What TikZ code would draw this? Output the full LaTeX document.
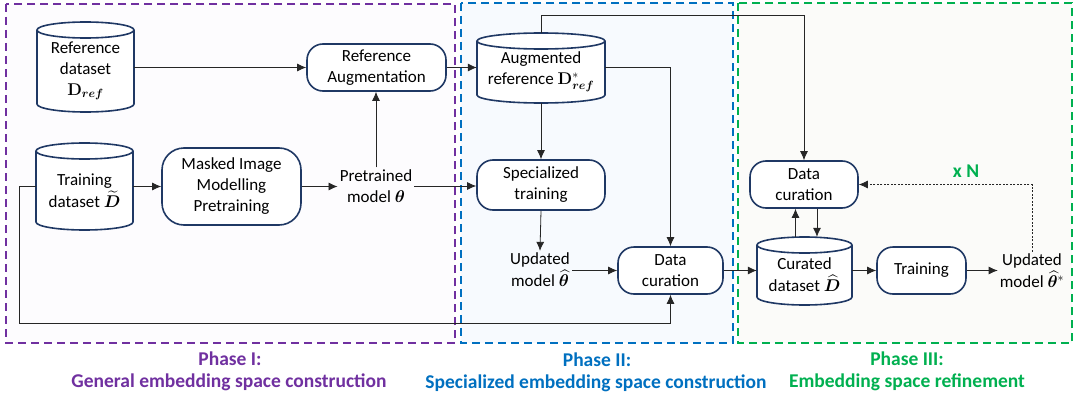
\RequirePackage{fix-cm}
\documentclass[tikz,border=0pt]{standalone}
\usepackage{amsmath,bm}
\usepackage[no-math]{fontspec}
\setmainfont{Carlito}
\usetikzlibrary{arrows.meta,calc}
\definecolor{navy}{HTML}{1F3864}
\definecolor{phA}{HTML}{7030A0}
\definecolor{phB}{HTML}{0070C0}
\definecolor{phC}{HTML}{00B050}
\definecolor{bgA}{HTML}{FDFCFE}
\definecolor{bgB}{HTML}{F7FAFE}
\definecolor{bgC}{HTML}{FBFBF9}
\newcommand\bigfont{\fontsize{17}{21}\selectfont}
\newcommand\phfont{\fontsize{19.5}{23}\selectfont}
\tikzset{
  proc/.style={draw=navy, line width=1.6pt, rounded corners=16pt, fill=white, align=center, inner sep=2pt},
  txt/.style={align=center, inner sep=2pt},
  cylfill/.style={draw=navy, line width=1.6pt, fill=white},
  arr/.style={-{Latex[length=9pt,width=8pt]}, line width=0.8pt, draw=black!85},
  phasebox/.style={dash pattern=on 8pt off 5pt, line width=1.5pt},
  phlabel/.style={align=center, font=\phfont\bfseries, inner sep=1pt}
}
\newcommand\dbcyl[6]{%
  \path[cylfill] ({#2},{#3+8}) -- ({#2},{#5-8})
     arc[start angle=180, end angle=0, x radius={(#4-#2)/2}, y radius=8]
     -- ({#4},{#3+8})
     arc[start angle=0, end angle=-180, x radius={(#4-#2)/2}, y radius=8] -- cycle;
  \draw[navy, line width=1.6pt] ({#2},{#3+8}) arc[start angle=180, end angle=0, x radius={(#4-#2)/2}, y radius=8];
  \node[txt, minimum width={(#4-#2)*1pt}, minimum height={(#5-#3-8)*1pt}] (#1) at ({(#2+#4)/2},{(#3+#5)/2+4}) {#6};
}
\begin{document}
\begin{tikzpicture}[x=1pt, y=-1pt, font=\bigfont]
\useasboundingbox (0,0) rectangle (1075,396);
\fill[white] (0,0) rectangle (1075,396);
% phase boxes
\draw[phasebox, draw=phA, fill=bgA] (6,4) rectangle (455,343);
\draw[phasebox, draw=phB, fill=bgB] (461,3) rectangle (733,343);
\draw[phasebox, draw=phC, fill=bgC] (738,3) rectangle (1072,343);
% phase labels
\node[phlabel, text=phA] (l1a) at (230,359) {Phase I:};
\node[phlabel, text=phA] (l1b) at (229,382) {General embedding space construction};
\node[phlabel, text=phB] (l2a) at (597,360) {Phase II:};
\node[phlabel, text=phB] (l2b) at (596,383) {Specialized embedding space construction};
\node[phlabel, text=phC] (l3a) at (907,359) {Phase III:};
\node[phlabel, text=phC] (l3b) at (907,382) {Embedding space refinement};
% cylinders
\dbcyl{refd}{37}{22}{134}{112}{Reference\\dataset\\$\mathbf{D}_{\boldsymbol{ref}}$}
\dbcyl{trd}{36}{143}{133}{230}{Training\\[1pt]dataset $\widetilde{\boldsymbol{D}}$}
\dbcyl{aug}{477}{33}{605}{103}{Augmented\\reference $\mathbf{D}^{*}_{\boldsymbol{ref}}$}
\dbcyl{cur}{757}{237}{852}{305}{Curated\\[1pt]dataset $\widehat{\boldsymbol{D}}$}
% process boxes
\node[proc, minimum width=139pt, minimum height=47pt] (refaug) at (376.5,67.5) {Reference\\Augmentation};
\node[proc, minimum width=139pt, minimum height=77pt, rounded corners=22pt] (mim) at (231.5,186.5) {Masked Image\\Modelling\\Pretraining};
\node[proc, minimum width=128pt, minimum height=50pt] (spec) at (541,185) {Specialized\\training};
\node[proc, minimum width=105pt, minimum height=47pt] (dc2) at (670.5,270.5) {Data\\curation};
\node[proc, minimum width=108pt, minimum height=47pt] (dc3) at (804,184.5) {Data\\curation};
\node[proc, minimum width=89pt, minimum height=47pt] (train) at (921.5,270.5) {Training};
% text nodes
\node[txt] (pre) at (376,186) {Pretrained\\model $\boldsymbol{\theta}$};
\node[txt] (upd) at (540,270) {Updated\\[1pt]model $\widehat{\boldsymbol{\theta}}$};
\node[txt] (upd2) at (1032,271) {Updated\\[1pt]model $\widehat{\boldsymbol{\theta}}^{*}$};
\node[phlabel, text=phC] (xn) at (966,171) {x N};
% helper coordinates
\coordinate (topy) at (0,15);
\coordinate (lx) at (19,323);
\coordinate (curtop) at ([yshift=8pt]cur.north);
\coordinate (augtop) at ([yshift=8pt]aug.north);
% connectors
\draw[arr] (refd.east |- refaug.west) -- (refaug.west);
\draw[arr] (trd.east |- mim.west) -- (mim.west);
\draw[arr] (mim.east) -- (pre.west |- mim.east);
\draw[arr] (pre.north) -- (pre.north |- refaug.south);
\draw[arr] (pre.east) -- (spec.west |- pre.east);
\draw[arr] (refaug.east) -- (aug.west |- refaug.east);
\draw[arr] (aug.south) -- (spec.north);
\draw[arr] (augtop) -- (augtop |- topy) -| (dc3.north);
\draw[arr] (aug.east |- refaug.east) -| (dc2.north);
\draw[arr] (spec.south) -- (upd.north);
\draw[arr] (upd.east |- dc2.west) -- (dc2.west);
\draw[arr] (trd.west |- mim.west) -| (lx) -| (dc2.south);
\draw[arr] (dc2.east) -- (cur.west |- dc2.east);
\draw[arr] ([xshift=-9pt]curtop) -- ([xshift=-9pt]curtop |- dc3.south);
\draw[arr] ([xshift=13pt]dc3.south) -- ([xshift=13pt]dc3.south |- curtop);
\draw[arr] (cur.east |- train.west) -- (train.west);
\draw[arr] (train.east) -- (upd2.west |- train.east);
\draw[arr, dash pattern=on 2pt off 1.5pt, line width=0.7pt] (upd2.north) -- (upd2.north |- dc3.east) -- (dc3.east);
\end{tikzpicture}
\end{document}
